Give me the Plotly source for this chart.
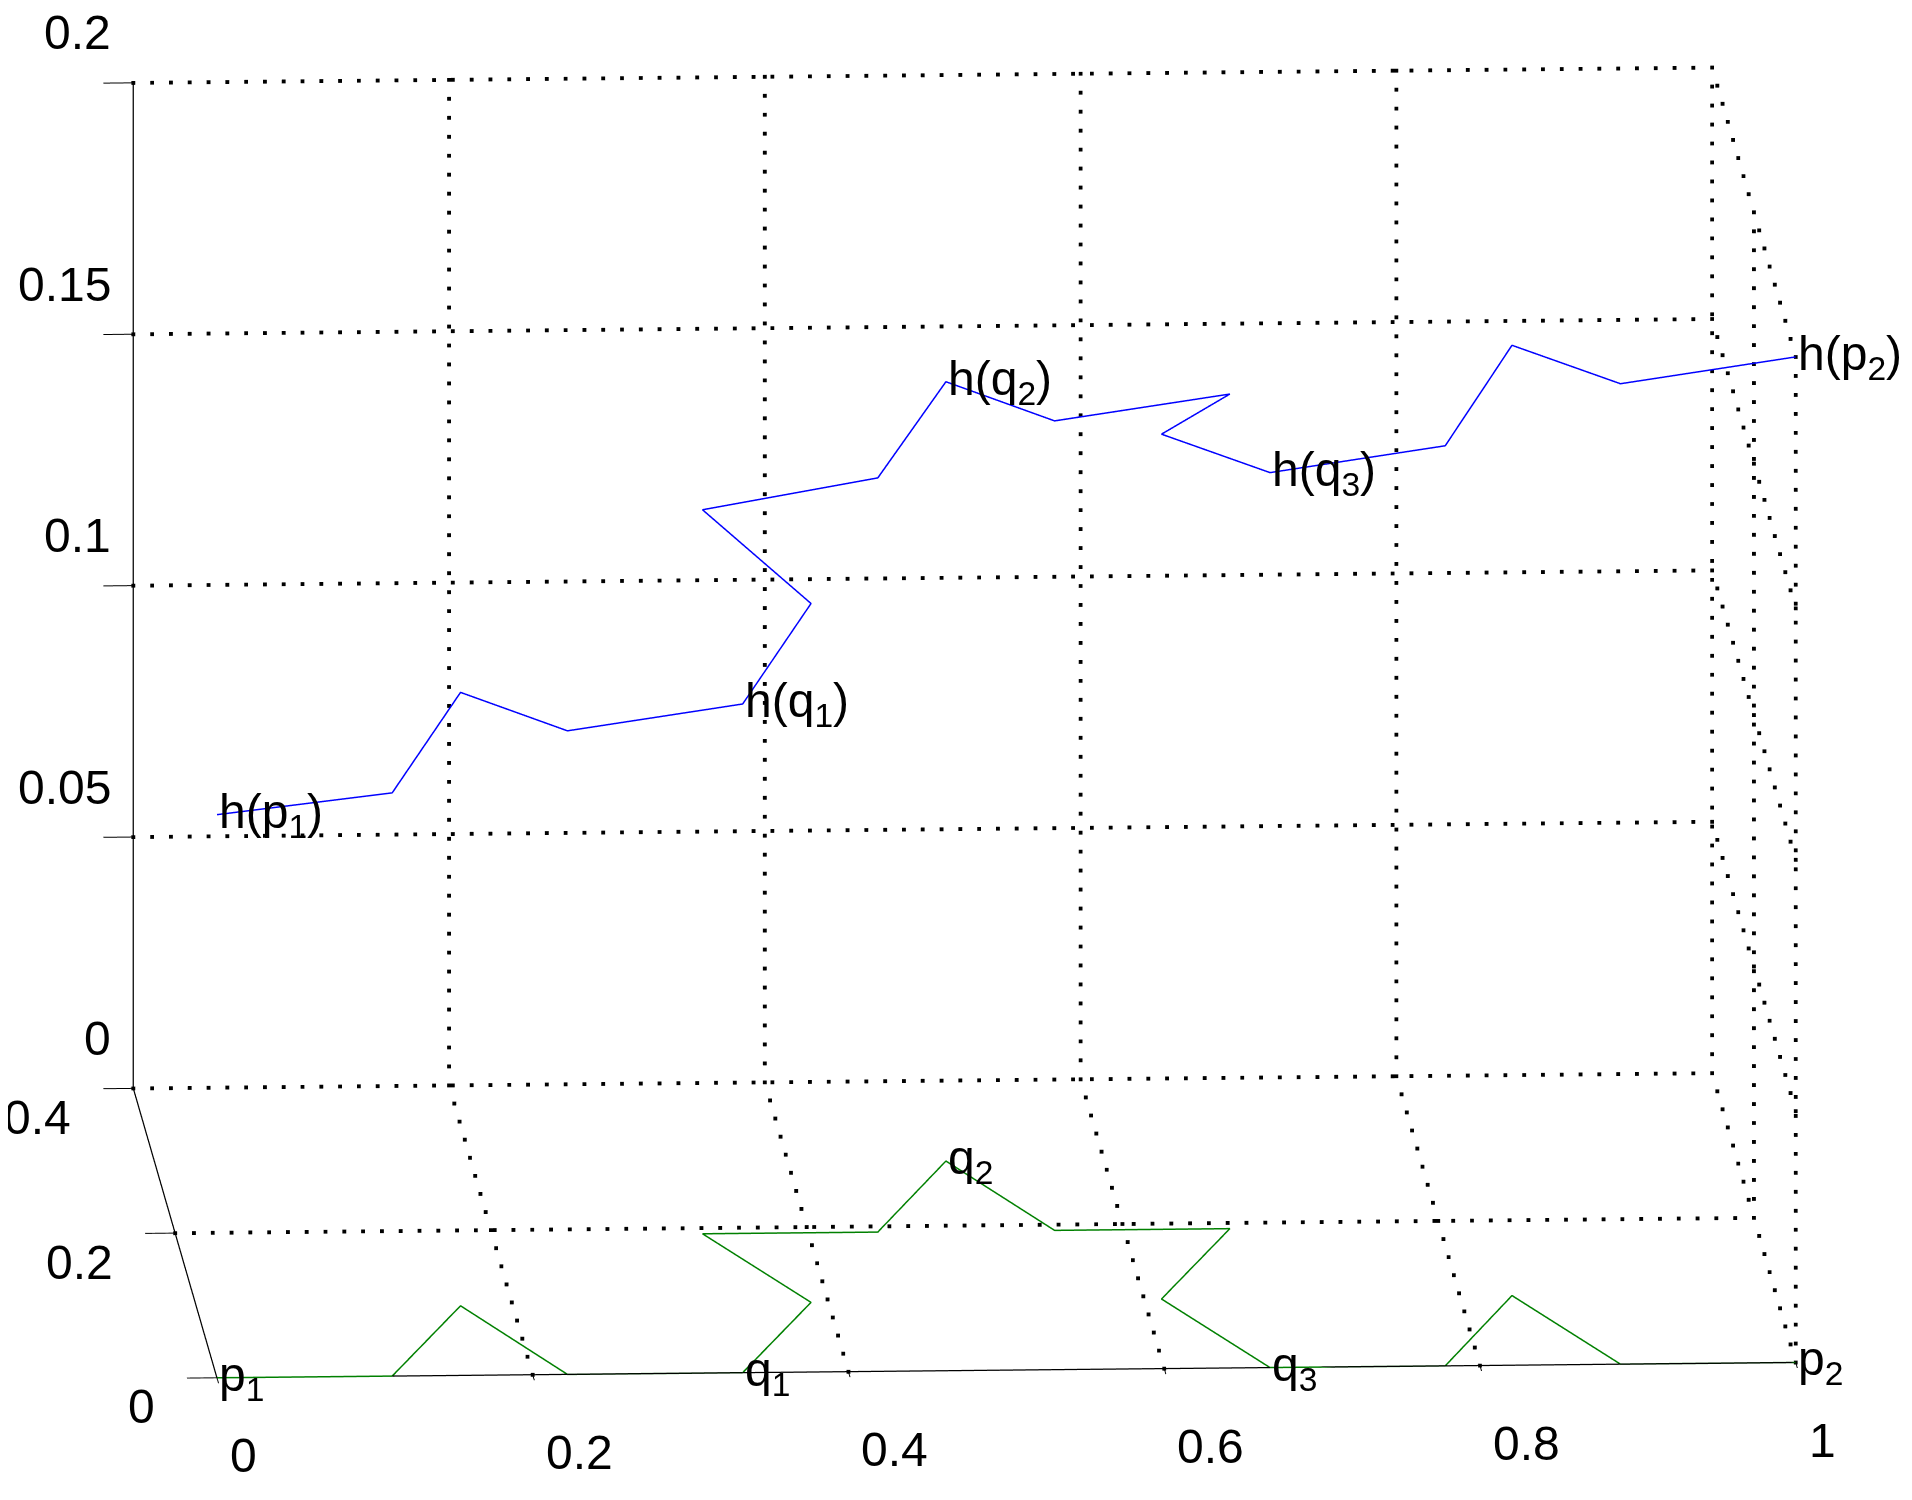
import numpy as np
import plotly.graph_objects as go

# vertices of the curve in the floor plane (z = 0)
curve_x = [0, 0.111, 0.167, 0.222, 0.333, 0.389, 0.333, 0.444, 0.5,
           0.556, 0.667, 0.611, 0.667, 0.778, 0.833, 0.889, 1]
curve_y = [0, 0, 0.096, 0, 0, 0.096, 0.192, 0.192, 0.289,
           0.192, 0.192, 0.096, 0, 0, 0.096, 0, 0]
# heights of the lifted curve h(.)
lift_z = [0.112, 0.116, 0.122, 0.128, 0.133, 0.139, 0.144, 0.150, 0.155,
          0.161, 0.166, 0.172, 0.178, 0.183, 0.189, 0.195, 0.200]

# labelled vertices
point_index = [0, 4, 8, 12, 16]
point_names = ["p<sub>1</sub>", "q<sub>1</sub>", "q<sub>2</sub>",
               "q<sub>3</sub>", "p<sub>2</sub>"]

x_ticks = [0, 0.2, 0.4, 0.6, 0.8, 1]
x_tick_labels = ["0", "0.2", "0.4", "0.6", "0.8", "1"]
y_ticks = [0, 0.2, 0.4]
y_tick_labels = ["0", "0.2", "0.4"]
z_ticks = [0, 0.05, 0.1, 0.15, 0.2]
z_tick_labels = ["0", "0.05", "0.1", "0.15", "0.2"]

FONT = "Liberation Sans, Arial, sans-serif"
text_font = dict(family=FONT, size=48, color="black")

x0, x1 = x_ticks[0], x_ticks[-1]
y0, y1 = y_ticks[0], y_ticks[-1]
z0, z1 = z_ticks[0], z_ticks[-1]

# dotted (matlab style) grid on back wall, floor and right wall:
# gl grid lines can't be dotted, so the dots are drawn as small markers
gx, gy, gz = [], [], []
n_dots = {"x": 84, "y": 16, "z": 53}   # ~19px between dots on screen


def dotted(a, b, n):
    t = np.linspace(0, 1, n + 1)
    gx.extend(a[0] + (b[0] - a[0]) * t)
    gy.extend(a[1] + (b[1] - a[1]) * t)
    gz.extend(a[2] + (b[2] - a[2]) * t)


for v in x_ticks[1:]:
    dotted((v, y1, z0), (v, y1, z1), n_dots["z"])
    dotted((v, y0, z0), (v, y1, z0), n_dots["y"])
for v in z_ticks:
    dotted((x0, y1, v), (x1, y1, v), n_dots["x"])
for v in z_ticks[1:]:
    dotted((x1, y0, v), (x1, y1, v), n_dots["y"])
for v in y_ticks[1:]:
    dotted((x0, v, z0), (x1, v, z0), n_dots["x"])
for v in y_ticks[:-1]:
    dotted((x1, v, z0), (x1, v, z1), n_dots["z"])

grid = go.Scatter3d(
    x=gx, y=gy, z=gz, mode="markers", hoverinfo="skip",
    marker=dict(color="black", size=2, symbol="square", line=dict(width=0)),
)

# the three solid axis lines (x front, y left, z back-left)
axis_lines = go.Scatter3d(
    x=[x0, x1, None, x0, x0, None, x0, x0],
    y=[y0, y0, None, y0, y1, None, y1, y1],
    z=[z0, z0, None, z0, z0, None, z0, z1],
    mode="lines", hoverinfo="skip", line=dict(color="black", width=2.5),
)
floor_curve = go.Scatter3d(
    x=curve_x, y=curve_y, z=[0] * len(curve_x),
    mode="lines", line=dict(color="rgb(0,128,0)", width=3),
)
lifted_curve = go.Scatter3d(
    x=curve_x, y=curve_y, z=lift_z,
    mode="lines", line=dict(color="rgb(0,0,255)", width=3),
)

fig = go.Figure(data=[grid, axis_lines, floor_curve, lifted_curve])

annotations = []
for i, name in zip(point_index, point_names):
    annotations.append(dict(
        x=curve_x[i], y=curve_y[i], z=0, text=name, showarrow=False,
        xanchor="left", yanchor="middle", font=text_font,
    ))
    annotations.append(dict(
        x=curve_x[i], y=curve_y[i], z=lift_z[i], text="h(" + name + ")",
        showarrow=False, xanchor="left", yanchor="middle", font=text_font,
    ))

# tick labels placed like the original (matlab style) labels
for v, t in zip(x_ticks, x_tick_labels):
    annotations.append(dict(
        x=v, y=0, z=0, text=t, showarrow=False, xanchor="left",
        yanchor="middle", xshift=11, yshift=-78, font=text_font,
    ))
for v, t in zip(y_ticks, y_tick_labels):
    annotations.append(dict(
        x=0, y=v, z=0, text=t, showarrow=False, xanchor="right",
        yanchor="middle", xshift=-60, yshift=-29, font=text_font,
    ))
for v, t in zip(z_ticks, z_tick_labels):
    annotations.append(dict(
        x=0, y=0.4, z=v, text=t, showarrow=False, xanchor="right",
        yanchor="middle", xshift=-20, yshift=50, font=text_font,
    ))


def axis(rng, vals):
    return dict(
        range=rng, autorange=False, tickvals=vals, showticklabels=False,
        showgrid=False, showline=False,
        ticks="outside", tickcolor="black", ticklen=30, tickwidth=2,
        showbackground=False, zeroline=False, showspikes=False,
        title=dict(text=""),
    )


k = 2.108  # orthographic zoom is set through the aspect ratio
r = 3.0
center = dict(x=-0.0011, y=-0.0077, z=-0.0465)
fig.update_layout(
    showlegend=False,
    margin=dict(l=0, r=0, t=0, b=0),
    autosize=False,
    width=1912,
    height=1500,
    paper_bgcolor="white",
    scene=dict(
        domain=dict(x=[0, 1], y=[0, 1]),
        xaxis=axis([0, 1], x_ticks),
        yaxis=axis([0, 0.4], y_ticks),
        zaxis=axis([0, 0.2], z_ticks),
        aspectmode="manual",
        aspectratio=dict(x=k, y=k, z=0.647 * k),
        camera=dict(
            projection=dict(type="orthographic"),
            up=dict(x=0, y=0, z=1),
            center=center,
            eye=dict(x=center["x"] - 0.0520 * r,
                     y=center["y"] - 0.9817 * r,
                     z=center["z"] + 0.1833 * r),
        ),
        annotations=annotations,
    ),
)

fig.write_html("out.html", config={"displayModeBar": False})
